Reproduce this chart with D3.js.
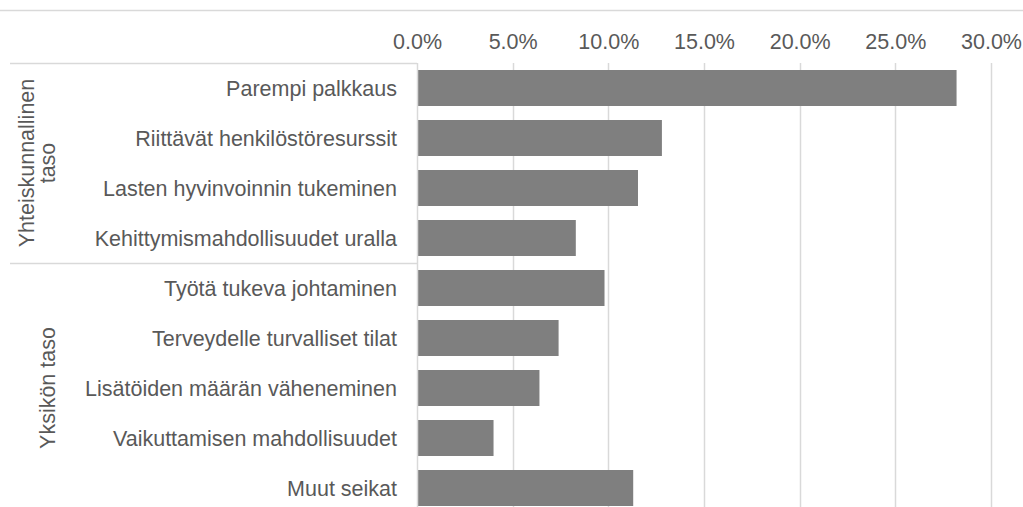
<!DOCTYPE html>
<html>
<head>
<meta charset="utf-8">
<script src="https://cdn.jsdelivr.net/npm/d3@7"></script>
<style>
  body { margin: 0; background: #fff; }
  svg { display: block; font-family: "Liberation Sans", Arial, sans-serif; }
</style>
</head>
<body>
<div id="chart"></div>
<script>
// Data
const categories = [
    "Parempi palkkaus",
    "Riittävät henkilöstöresurssit",
    "Lasten hyvinvoinnin tukeminen",
    "Kehittymismahdollisuudet uralla",
    "Työtä tukeva johtaminen",
    "Terveydelle turvalliset tilat",
    "Lisätöiden määrän väheneminen",
    "Vaikuttamisen mahdollisuudet",
    "Muut seikat"
];
const shares = [0.282, 0.128, 0.1155, 0.083, 0.098, 0.074, 0.064, 0.040, 0.113];
const groupNames = [["Yhteiskunnallinen", "taso"], ["Yksikön taso"]];
const groupSizes = [4, 5];
const tickValues = [0, 0.05, 0.10, 0.15, 0.20, 0.25, 0.30];

const W = 1023, H = 507;
const margin = {top: 63, left: 417, right: 32};
const plotBottom = 513;   // the source chart is cut off just below the last bar
const fontSize = "21.5px";

const svg = d3.select("#chart").append("svg")
    .attr("width", W)
    .attr("height", H);

const x = d3.scaleLinear()
    .domain([0, 0.30])
    .range([margin.left, 991]);

const y = d3.scaleBand()
    .domain(categories)
    .range([margin.top, plotBottom])
    .paddingInner(0.28)
    .paddingOuter(0.14);

const grey = "#595959";
const lineCol = "#d9d9d9";

// outer chart border (top edge visible)
svg.append("line")
    .attr("x1", 0).attr("x2", W)
    .attr("y1", 10.5).attr("y2", 10.5)
    .attr("stroke", lineCol)
    .attr("stroke-width", 1.5);

// gridlines
svg.append("g")
    .selectAll("line")
    .data(tickValues.slice(1))
    .join("line")
    .attr("x1", d => Math.round(x(d)) + 0.5)
    .attr("x2", d => Math.round(x(d)) + 0.5)
    .attr("y1", margin.top)
    .attr("y2", H)
    .attr("stroke", lineCol)
    .attr("stroke-width", 1.5);

// top axis (labels only)
const xAxis = svg.append("g")
    .attr("transform", `translate(0,${margin.top - 14})`)
    .call(d3.axisTop(x)
        .tickValues(tickValues)
        .tickFormat(d3.format(".1%"))
        .tickSize(0)
        .tickPadding(0));
xAxis.select(".domain").remove();
xAxis.selectAll("text")
    .style("font-size", fontSize)
    .style("fill", grey)
    .style("font-family", "'Liberation Sans', Arial, sans-serif");

// bars
svg.append("g")
    .selectAll("rect")
    .data(categories)
    .join("rect")
    .attr("x", x(0) + 1)
    .attr("y", d => y(d))
    .attr("width", (d, i) => x(shares[i]) - x(0) - 1)
    .attr("height", y.bandwidth())
    .attr("fill", "#7f7f7f");

// category axis line
svg.append("line")
    .attr("x1", x(0) + 0.5).attr("x2", x(0) + 0.5)
    .attr("y1", margin.top).attr("y2", H)
    .attr("stroke", lineCol)
    .attr("stroke-width", 1.5);

// category labels
svg.append("g")
    .selectAll("text")
    .data(categories)
    .join("text")
    .attr("x", 397)
    .attr("y", d => y(d) + y.bandwidth() / 2)
    .attr("dy", "0.35em")
    .attr("text-anchor", "end")
    .style("font-size", fontSize)
    .style("fill", grey)
    .text(d => d);

// group separators and rotated group labels
const step = y.step();
let start = 0;
groupSizes.forEach((n, gi) => {
    const y0 = margin.top + start * step;
    const y1 = Math.min(margin.top + (start + n) * step, plotBottom);
    svg.append("line")
        .attr("x1", 10).attr("x2", x(0))
        .attr("y1", Math.round(y0) + 0.5).attr("y2", Math.round(y0) + 0.5)
        .attr("stroke", lineCol)
        .attr("stroke-width", 1.5);

    const lines = groupNames[gi];
    const cy = (y0 + y1) / 2;
    const lineH = 21;
    lines.forEach((t, li) => {
        const cx = 47 - (lines.length - 1 - li) * lineH;
        svg.append("text")
            .attr("transform", `translate(${cx},${cy}) rotate(-90)`)
            .attr("text-anchor", "middle")
            .attr("dy", "0.35em")
            .style("font-size", fontSize)
            .style("fill", grey)
            .text(t);
    });
    start += n;
});
</script>
</body>
</html>
